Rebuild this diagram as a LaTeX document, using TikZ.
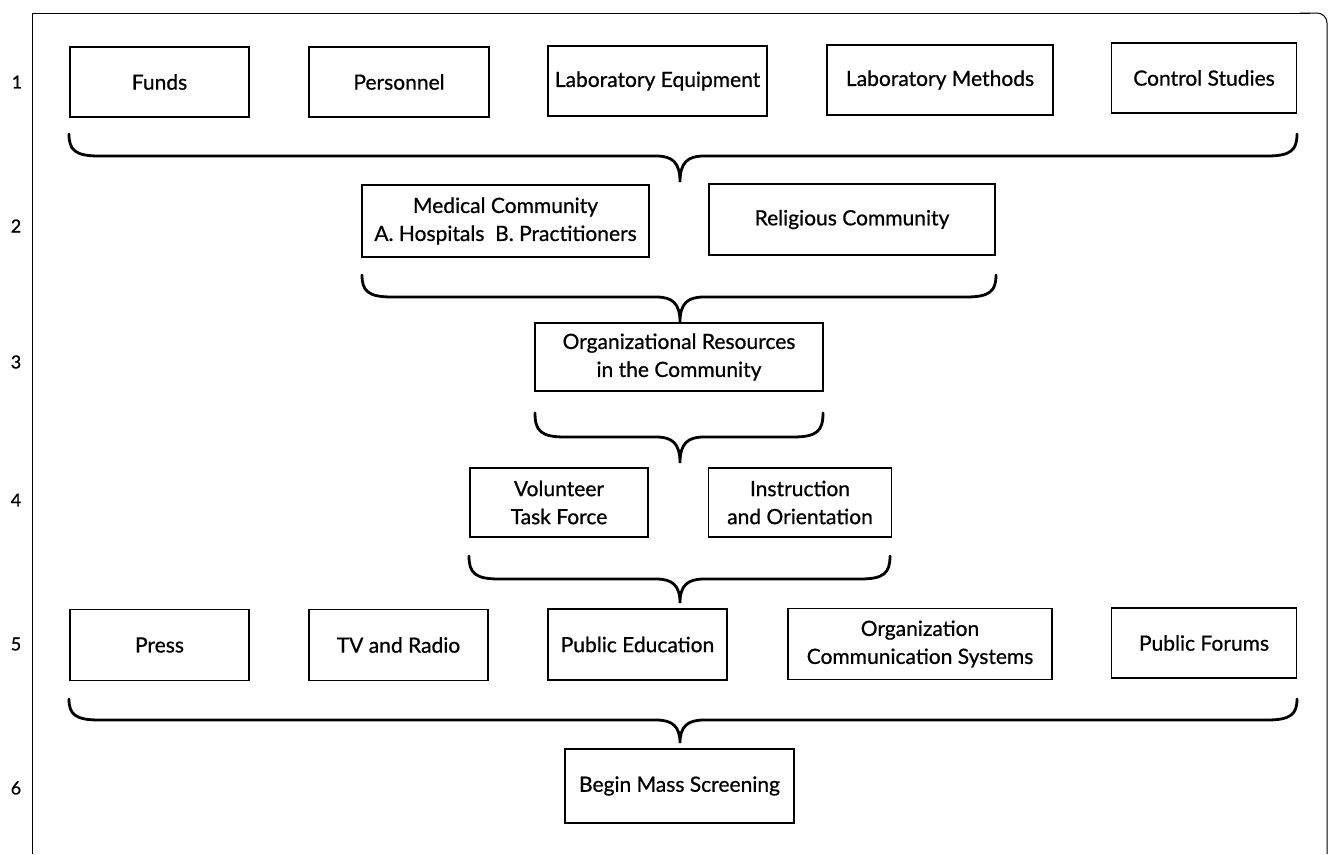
\documentclass[tikz,border=0pt]{standalone}
\usepackage{fontspec}
\setmainfont{Lato}
\newfontfamily\boxfont{Lato}[FakeBold=0.7]
\tikzset{
  box/.style={draw, line width=1.2pt, inner sep=0pt, align=center, font=\boxfont\fontsize{21}{28}\selectfont},
  rowlabel/.style={font=\boxfont\fontsize{18}{18}\selectfont, inner sep=0pt},
  bracestyle/.style={line width=2.8pt, line cap=round},
  framestyle/.style={line width=1pt}
}
\newcommand\curlybrace[6]{%
  \draw[bracestyle] (#1,#3) .. controls (#1,#4-6) and (#1+6,#4) .. (#1+30,#4)
    -- (#6-24,#4) .. controls (#6-8,#4) and (#6,#4+6) .. (#6,#5)
    .. controls (#6,#4+6) and (#6+8,#4) .. (#6+24,#4)
    -- (#2-30,#4) .. controls (#2-6,#4) and (#2,#4-6) .. (#2,#3);}
\begin{document}
\begin{tikzpicture}[x=1pt,y=-1pt]
\useasboundingbox (0,0) rectangle (1333,854);
% frame
\draw[framestyle] (32,854) -- (32,13) -- (1310,13);
\draw[framestyle, rounded corners=10pt] (1300,13) -- (1327,13) -- (1327,854);
% row labels
\node[rowlabel] (l1) at (17,82) {1};
\node[rowlabel] (l2) at (16,226) {2};
\node[rowlabel] (l3) at (16,362) {3};
\node[rowlabel] (l4) at (16,500) {4};
\node[rowlabel] (l5) at (16,644) {5};
\node[rowlabel] (l6) at (16,788) {6};
% row 1
\node[box, minimum width=179pt, minimum height=70pt] (funds) at (159.5,82) {Funds};
\node[box, minimum width=180pt, minimum height=70pt] (personnel) at (399,82) {Personnel};
\node[box, minimum width=219pt, minimum height=70pt] (labeq) at (657.5,81) {Laboratory Equipment};
\node[box, minimum width=226pt, minimum height=70pt] (labmeth) at (940,80) {Laboratory Methods};
\node[box, minimum width=185pt, minimum height=70pt] (control) at (1204,78) {Control Studies};
\curlybrace{69}{1297}{134}{156}{182}{680}
% row 2
\node[box, minimum width=287pt, minimum height=72pt] (medical) at (505.5,221) {Medical Community\\A. Hospitals\ \ B. Practitioners};
\node[box, minimum width=286pt, minimum height=71pt] (religious) at (852,219.5) {Religious Community};
\curlybrace{362}{996}{275}{297}{322}{680}
% row 3
\node[box, minimum width=288pt, minimum height=68pt] (orgres) at (679,357) {Organizational Resources\\in the Community};
\curlybrace{535}{823}{413}{437}{463}{680}
% row 4
\node[box, minimum width=178pt, minimum height=69pt] (volunteer) at (559,502.5) {Volunteer\\Task Force};
\node[box, minimum width=183pt, minimum height=69pt] (instruction) at (800,502.5) {Instruction\\and Orientation};
\curlybrace{469}{890}{556}{579}{603}{680}
% row 5
\node[box, minimum width=179pt, minimum height=71pt] (press) at (159.5,645) {Press};
\node[box, minimum width=179pt, minimum height=71pt] (tv) at (398.5,645) {TV and Radio};
\node[box, minimum width=179pt, minimum height=71pt] (pubedu) at (637.5,644.5) {Public Education};
\node[box, minimum width=264pt, minimum height=71pt] (orgcomm) at (920,644) {Organization\\Communication Systems};
\node[box, minimum width=185pt, minimum height=70pt] (forums) at (1204,643) {Public Forums};
\curlybrace{69}{1297}{699}{720}{743}{680}
% row 6
\node[box, minimum width=229pt, minimum height=74pt] (begin) at (679.5,786) {Begin Mass Screening};
\end{tikzpicture}
\end{document}
